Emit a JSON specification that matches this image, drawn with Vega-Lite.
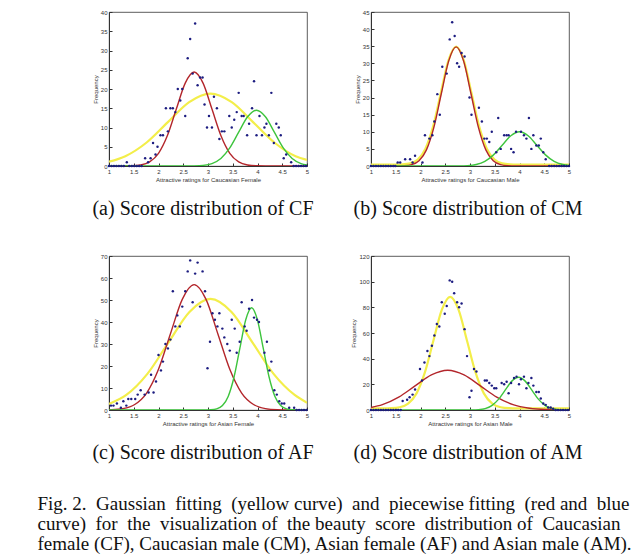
{
"$schema": "https://vega.github.io/schema/vega-lite/v6.json",
"padding": {"left": 37, "top": 8, "right": 5, "bottom": 5},
"background": "white",
"config": {
  "view": {"stroke": "#333", "strokeWidth": 0.8},
  "font": "Liberation Sans",
  "axis": {"grid": false, "labelFont": "Liberation Sans", "labelFontSize": 6, "labelColor": "#333", "titleFont": "Liberation Sans", "titleFontSize": 6, "titleFontWeight": "normal", "titleColor": "#333", "domainColor": "#333", "tickColor": "#333", "tickSize": -3, "labelPadding": 5, "titlePadding": 2, "labelFlush": false, "labelOverlap": false},
  "title": {"font": "Liberation Serif", "fontSize": 20, "fontWeight": "normal", "color": "#111"}
},
"title": {"text": ["Fig. 2.\u00a0 Gaussian \u00a0fitting \u00a0(yellow curve) \u00a0and \u00a0piecewise fitting \u00a0(red and \u00a0blue", "curve) \u00a0for \u00a0the \u00a0visualization of \u00a0the beauty \u00a0score \u00a0distribution of \u00a0Caucasian", "female (CF), Caucasian male (CM), Asian female (AF) and Asian male (AM)."], "orient": "bottom", "anchor": "start", "font": "Liberation Serif", "fontSize": 19, "lineHeight": 19.8, "dx": -54, "offset": 32},
"columns": 2,
"spacing": {"column": 64, "row": 90},
"bounds": "flush",
"datasets": {
  "a_y": [{"x":1,"y":1.1},{"x":1.33,"y":2.54},{"x":1.76,"y":6.1},{"x":2.19,"y":11.4},{"x":2.62,"y":16.59},{"x":3.05,"y":18.8},{"x":3.48,"y":16.59},{"x":3.91,"y":11.4},{"x":4.34,"y":6.1},{"x":4.77,"y":2.54},{"x":5,"y":1.6}],
  "a_r": [{"x":1,"y":0},{"x":1.1,"y":0},{"x":1.28,"y":0.01},{"x":1.46,"y":0.05},{"x":1.64,"y":0.27},{"x":1.82,"y":1.07},{"x":2.0,"y":3.3},{"x":2.18,"y":7.92},{"x":2.36,"y":14.8},{"x":2.54,"y":21.53},{"x":2.72,"y":24.4},{"x":2.9,"y":21.53},{"x":3.08,"y":14.8},{"x":3.26,"y":7.92},{"x":3.44,"y":3.3},{"x":3.62,"y":1.07},{"x":3.8,"y":0.27},{"x":3.98,"y":0.05},{"x":4.16,"y":0.01},{"x":4.34,"y":0},{"x":5,"y":0}],
  "a_g": [{"x":1,"y":0},{"x":2.36,"y":0},{"x":2.54,"y":0},{"x":2.72,"y":0.03},{"x":2.9,"y":0.16},{"x":3.08,"y":0.64},{"x":3.26,"y":1.96},{"x":3.44,"y":4.71},{"x":3.62,"y":8.79},{"x":3.8,"y":12.8},{"x":3.98,"y":14.5},{"x":4.16,"y":12.8},{"x":4.34,"y":8.79},{"x":4.52,"y":4.71},{"x":4.7,"y":1.96},{"x":4.88,"y":0.64},{"x":5,"y":0.26}],
  "a_p": [{"x":1.0,"y":0},{"x":1.05,"y":0},{"x":1.1,"y":0},{"x":1.15,"y":0},{"x":1.2,"y":0},{"x":1.25,"y":0},{"x":1.3,"y":0},{"x":1.36,"y":1},{"x":1.41,"y":0},{"x":1.46,"y":0},{"x":1.51,"y":0},{"x":1.56,"y":0},{"x":1.61,"y":0},{"x":1.66,"y":0},{"x":1.73,"y":2},{"x":1.79,"y":1},{"x":1.84,"y":2},{"x":1.89,"y":6},{"x":1.94,"y":3},{"x":1.98,"y":5},{"x":2.04,"y":8},{"x":2.09,"y":8},{"x":2.15,"y":15},{"x":2.19,"y":9},{"x":2.24,"y":15},{"x":2.29,"y":15},{"x":2.34,"y":14},{"x":2.39,"y":20},{"x":2.44,"y":17},{"x":2.48,"y":20},{"x":2.54,"y":13},{"x":2.59,"y":28},{"x":2.64,"y":33},{"x":2.69,"y":24},{"x":2.74,"y":37},{"x":2.79,"y":21},{"x":2.84,"y":23},{"x":2.89,"y":23},{"x":2.93,"y":16},{"x":2.98,"y":10},{"x":3.02,"y":13},{"x":3.08,"y":10},{"x":3.12,"y":18},{"x":3.18,"y":15},{"x":3.23,"y":7},{"x":3.28,"y":9},{"x":3.33,"y":9},{"x":3.43,"y":13},{"x":3.48,"y":10},{"x":3.53,"y":12},{"x":3.58,"y":14},{"x":3.62,"y":19},{"x":3.68,"y":13},{"x":3.72,"y":13},{"x":3.79,"y":8},{"x":3.83,"y":11},{"x":3.89,"y":15},{"x":3.93,"y":22},{"x":3.98,"y":8},{"x":4.04,"y":13},{"x":4.09,"y":8},{"x":4.14,"y":10},{"x":4.18,"y":11},{"x":4.23,"y":8},{"x":4.28,"y":19},{"x":4.33,"y":6},{"x":4.38,"y":11},{"x":4.43,"y":10},{"x":4.47,"y":8},{"x":4.53,"y":2},{"x":4.58,"y":3},{"x":4.68,"y":1},{"x":4.73,"y":0},{"x":4.78,"y":0},{"x":4.83,"y":0},{"x":4.88,"y":0},{"x":4.93,"y":0},{"x":4.98,"y":0}],
  "b_y": [{"x":1,"y":0.4},{"x":1.17,"y":0.4},{"x":1.325,"y":0.4},{"x":1.48,"y":0.41},{"x":1.635,"y":0.48},{"x":1.79,"y":0.78},{"x":1.945,"y":1.91},{"x":2.1,"y":5.07},{"x":2.255,"y":11.6},{"x":2.41,"y":21.32},{"x":2.565,"y":30.85},{"x":2.72,"y":34.9},{"x":2.875,"y":30.85},{"x":3.03,"y":21.32},{"x":3.185,"y":11.6},{"x":3.34,"y":5.07},{"x":3.495,"y":1.91},{"x":3.65,"y":0.78},{"x":3.805,"y":0.48},{"x":3.96,"y":0.41},{"x":4.115,"y":0.4},{"x":5,"y":0.4}],
  "b_r": [{"x":1,"y":0},{"x":1.37,"y":0},{"x":1.52,"y":0.01},{"x":1.67,"y":0.08},{"x":1.82,"y":0.39},{"x":1.97,"y":1.53},{"x":2.12,"y":4.71},{"x":2.27,"y":11.3},{"x":2.42,"y":21.11},{"x":2.57,"y":30.71},{"x":2.72,"y":34.8},{"x":2.87,"y":30.71},{"x":3.02,"y":21.11},{"x":3.17,"y":11.3},{"x":3.32,"y":4.71},{"x":3.47,"y":1.53},{"x":3.62,"y":0.39},{"x":3.77,"y":0.08},{"x":3.92,"y":0.01},{"x":4.07,"y":0},{"x":5,"y":0}],
  "b_g": [{"x":1,"y":0},{"x":2.6,"y":0},{"x":2.775,"y":0.02},{"x":2.95,"y":0.11},{"x":3.125,"y":0.44},{"x":3.3,"y":1.35},{"x":3.475,"y":3.25},{"x":3.65,"y":6.07},{"x":3.825,"y":8.83},{"x":4.0,"y":10},{"x":4.175,"y":8.83},{"x":4.35,"y":6.07},{"x":4.525,"y":3.25},{"x":4.7,"y":1.35},{"x":4.875,"y":0.44},{"x":5,"y":0.17}],
  "b_p": [{"x":1.0,"y":0},{"x":1.05,"y":0},{"x":1.1,"y":0},{"x":1.15,"y":0},{"x":1.2,"y":0},{"x":1.25,"y":0},{"x":1.3,"y":0},{"x":1.35,"y":0},{"x":1.4,"y":0},{"x":1.45,"y":0},{"x":1.49,"y":0},{"x":1.54,"y":1},{"x":1.59,"y":1},{"x":1.69,"y":2},{"x":1.79,"y":2},{"x":1.84,"y":1},{"x":1.89,"y":3},{"x":2.04,"y":1},{"x":2.09,"y":9},{"x":2.18,"y":8},{"x":2.24,"y":9},{"x":2.28,"y":13},{"x":2.34,"y":21},{"x":2.39,"y":15},{"x":2.44,"y":29},{"x":2.53,"y":27},{"x":2.59,"y":37},{"x":2.64,"y":42},{"x":2.69,"y":38},{"x":2.74,"y":30},{"x":2.78,"y":29},{"x":2.83,"y":33},{"x":2.89,"y":32},{"x":2.99,"y":20},{"x":3.03,"y":15},{"x":3.18,"y":17},{"x":3.24,"y":13},{"x":3.29,"y":8},{"x":3.34,"y":8},{"x":3.39,"y":7},{"x":3.44,"y":10},{"x":3.53,"y":4},{"x":3.57,"y":14},{"x":3.62,"y":5},{"x":3.69,"y":9},{"x":3.74,"y":9},{"x":3.78,"y":9},{"x":3.83,"y":5},{"x":3.88,"y":4},{"x":3.93,"y":10},{"x":4.03,"y":10},{"x":4.09,"y":9},{"x":4.14,"y":8},{"x":4.19,"y":14},{"x":4.24,"y":5},{"x":4.28,"y":9},{"x":4.34,"y":6},{"x":4.39,"y":6},{"x":4.43,"y":8},{"x":4.48,"y":4},{"x":4.53,"y":2},{"x":4.6,"y":0},{"x":4.65,"y":0},{"x":4.7,"y":0},{"x":4.75,"y":0},{"x":4.8,"y":0},{"x":4.85,"y":0},{"x":4.9,"y":0},{"x":4.95,"y":0},{"x":5.0,"y":0}],
  "c_y": [{"x":1,"y":2.76},{"x":1.35,"y":6.83},{"x":1.775,"y":16.4},{"x":2.2,"y":30.63},{"x":2.625,"y":44.57},{"x":3.05,"y":50.5},{"x":3.475,"y":44.57},{"x":3.9,"y":30.63},{"x":4.325,"y":16.4},{"x":4.75,"y":6.83},{"x":5,"y":3.3}],
  "c_r": [{"x":1,"y":0.09},{"x":1.04,"y":0.13},{"x":1.28,"y":0.63},{"x":1.52,"y":2.5},{"x":1.76,"y":7.71},{"x":2.0,"y":18.51},{"x":2.24,"y":34.57},{"x":2.48,"y":50.3},{"x":2.72,"y":57},{"x":2.96,"y":50.3},{"x":3.2,"y":34.57},{"x":3.44,"y":18.51},{"x":3.68,"y":7.71},{"x":3.92,"y":2.5},{"x":4.16,"y":0.63},{"x":4.4,"y":0.13},{"x":4.64,"y":0.02},{"x":4.88,"y":0},{"x":5,"y":0}],
  "c_g": [{"x":1,"y":0},{"x":2.7,"y":0},{"x":2.8225,"y":0},{"x":2.94,"y":0.01},{"x":3.0575,"y":0.1},{"x":3.175,"y":0.52},{"x":3.2925,"y":2.04},{"x":3.41,"y":6.29},{"x":3.5275,"y":15.1},{"x":3.645,"y":28.2},{"x":3.7625,"y":41.04},{"x":3.88,"y":46.5},{"x":3.9975,"y":41.04},{"x":4.115,"y":28.2},{"x":4.2325,"y":15.1},{"x":4.35,"y":6.29},{"x":4.4675,"y":2.04},{"x":4.585,"y":0.52},{"x":4.7025,"y":0.1},{"x":4.82,"y":0.01},{"x":4.94,"y":0},{"x":5,"y":0}],
  "c_p": [{"x":1.04,"y":2},{"x":1.09,"y":2},{"x":1.16,"y":3},{"x":1.24,"y":1},{"x":1.29,"y":4},{"x":1.35,"y":2},{"x":1.39,"y":5},{"x":1.45,"y":5},{"x":1.53,"y":5},{"x":1.58,"y":7},{"x":1.64,"y":9},{"x":1.72,"y":7},{"x":1.8,"y":8},{"x":1.85,"y":16},{"x":1.9,"y":8},{"x":1.95,"y":13},{"x":2.0,"y":25},{"x":2.05,"y":18},{"x":2.09,"y":22},{"x":2.14,"y":30},{"x":2.19,"y":28},{"x":2.24,"y":32},{"x":2.29,"y":54},{"x":2.34,"y":38},{"x":2.38,"y":43},{"x":2.43,"y":38},{"x":2.48,"y":47},{"x":2.54,"y":54},{"x":2.59,"y":63},{"x":2.64,"y":68},{"x":2.69,"y":49},{"x":2.74,"y":62},{"x":2.79,"y":67},{"x":2.84,"y":47},{"x":2.89,"y":63},{"x":2.94,"y":54},{"x":2.99,"y":19},{"x":3.04,"y":31},{"x":3.09,"y":44},{"x":3.14,"y":41},{"x":3.19,"y":38},{"x":3.23,"y":44},{"x":3.29,"y":37},{"x":3.33,"y":33},{"x":3.39,"y":30},{"x":3.44,"y":27},{"x":3.48,"y":41},{"x":3.54,"y":37},{"x":3.58,"y":26},{"x":3.64,"y":31},{"x":3.68,"y":49},{"x":3.74,"y":38},{"x":3.78,"y":36},{"x":3.83,"y":46},{"x":3.89,"y":50},{"x":3.93,"y":42},{"x":3.99,"y":41},{"x":4.03,"y":40},{"x":4.14,"y":26},{"x":4.19,"y":31},{"x":4.24,"y":18},{"x":4.28,"y":22},{"x":4.34,"y":9},{"x":4.39,"y":7},{"x":4.44,"y":4},{"x":4.49,"y":3},{"x":4.54,"y":3},{"x":4.64,"y":1},{"x":4.74,"y":1},{"x":4.79,"y":0},{"x":4.84,"y":0},{"x":4.89,"y":0},{"x":4.94,"y":0},{"x":4.99,"y":0}],
  "d_y": [{"x":1,"y":1.2},{"x":1.07,"y":1.2},{"x":1.24,"y":1.23},{"x":1.41,"y":1.39},{"x":1.58,"y":2.17},{"x":1.75,"y":5.02},{"x":1.92,"y":12.97},{"x":2.09,"y":29.45},{"x":2.26,"y":53.97},{"x":2.43,"y":77.98},{"x":2.6,"y":88.2},{"x":2.77,"y":77.98},{"x":2.94,"y":53.97},{"x":3.11,"y":29.45},{"x":3.28,"y":12.97},{"x":3.45,"y":5.02},{"x":3.62,"y":2.17},{"x":3.79,"y":1.39},{"x":3.96,"y":1.23},{"x":4.13,"y":1.2},{"x":5,"y":1.2}],
  "d_r": [{"x":1,"y":1.97},{"x":1.23,"y":4.19},{"x":1.56,"y":10.07},{"x":1.89,"y":18.8},{"x":2.22,"y":27.36},{"x":2.55,"y":31},{"x":2.88,"y":27.36},{"x":3.21,"y":18.8},{"x":3.54,"y":10.07},{"x":3.87,"y":4.19},{"x":4.2,"y":1.36},{"x":4.53,"y":0.34},{"x":4.86,"y":0.07},{"x":5,"y":0.03}],
  "d_g": [{"x":1,"y":0},{"x":2.765,"y":0},{"x":2.9,"y":0.01},{"x":3.035,"y":0.06},{"x":3.17,"y":0.28},{"x":3.305,"y":1.12},{"x":3.44,"y":3.45},{"x":3.575,"y":8.28},{"x":3.71,"y":15.47},{"x":3.845,"y":22.5},{"x":3.98,"y":25.5},{"x":4.115,"y":22.5},{"x":4.25,"y":15.47},{"x":4.385,"y":8.28},{"x":4.52,"y":3.45},{"x":4.655,"y":1.12},{"x":4.79,"y":0.28},{"x":4.925,"y":0.06},{"x":5,"y":0.02}],
  "d_p": [{"x":1.0,"y":0},{"x":1.05,"y":0},{"x":1.1,"y":0},{"x":1.15,"y":0},{"x":1.2,"y":0},{"x":1.25,"y":0},{"x":1.3,"y":0},{"x":1.35,"y":0},{"x":1.4,"y":0},{"x":1.45,"y":0},{"x":1.5,"y":0},{"x":1.55,"y":0},{"x":1.6,"y":0},{"x":1.64,"y":7},{"x":1.73,"y":8},{"x":1.78,"y":10},{"x":1.84,"y":12},{"x":1.89,"y":16},{"x":1.99,"y":32},{"x":2.03,"y":23},{"x":2.08,"y":37},{"x":2.14,"y":46},{"x":2.18,"y":42},{"x":2.23,"y":50},{"x":2.28,"y":58},{"x":2.33,"y":67},{"x":2.38,"y":65},{"x":2.43,"y":84},{"x":2.49,"y":75},{"x":2.53,"y":81},{"x":2.59,"y":101},{"x":2.64,"y":100},{"x":2.68,"y":91},{"x":2.74,"y":84},{"x":2.78,"y":80},{"x":2.83,"y":83},{"x":2.89,"y":63},{"x":2.94,"y":42},{"x":2.99,"y":10},{"x":3.03,"y":15},{"x":3.08,"y":32},{"x":3.13,"y":30},{"x":3.3,"y":23},{"x":3.34,"y":23},{"x":3.39,"y":21},{"x":3.44,"y":19},{"x":3.49,"y":17},{"x":3.53,"y":17},{"x":3.64,"y":21},{"x":3.69,"y":20},{"x":3.74,"y":22},{"x":3.78,"y":13},{"x":3.83,"y":21},{"x":3.89,"y":25},{"x":3.94,"y":26},{"x":3.99,"y":20},{"x":4.03,"y":24},{"x":4.09,"y":26},{"x":4.14,"y":17},{"x":4.18,"y":21},{"x":4.24,"y":25},{"x":4.28,"y":19},{"x":4.34,"y":14},{"x":4.39,"y":14},{"x":4.43,"y":9},{"x":4.48,"y":5},{"x":4.53,"y":4},{"x":4.58,"y":2},{"x":4.63,"y":2},{"x":4.68,"y":1},{"x":4.73,"y":0},{"x":4.78,"y":0},{"x":4.83,"y":0},{"x":4.88,"y":0},{"x":4.93,"y":0},{"x":4.98,"y":0}]
},
"concat": [
  {
    "width": 198, "height": 154,
    "title": {"text": "(a) Score distribution of CF", "orient": "bottom", "offset": 17, "dx": -5},
    "encoding": {
      "x": {"field": "x", "type": "quantitative", "scale": {"domain": [1, 5], "nice": false, "zero": false}, "axis": {"values": [1, 1.5, 2, 2.5, 3, 3.5, 4, 4.5, 5], "format": "~g", "title": "Attractive ratings for Caucasian Female"}},
      "y": {"field": "y", "type": "quantitative", "scale": {"domain": [0, 40], "nice": false}, "axis": {"values": [0, 5, 10, 15, 20, 25, 30, 35, 40], "title": "Frequency"}}
    },
    "layer": [
      {"data": {"name": "a_y"}, "mark": {"type": "line", "interpolate": "monotone", "color": "#f3ee4a", "strokeWidth": 2.2, "clip": true}, "encoding": {}},
      {"data": {"name": "a_r"}, "mark": {"type": "line", "interpolate": "monotone", "color": "#b3262b", "strokeWidth": 1.4, "clip": true}, "encoding": {}},
      {"data": {"name": "a_g"}, "mark": {"type": "line", "interpolate": "monotone", "color": "#3dc43d", "strokeWidth": 1.4, "clip": true}, "encoding": {}},
      {"data": {"name": "a_p"}, "mark": {"type": "circle", "size": 6, "color": "#1c1c80", "opacity": 1}}
    ]
  },
  {
    "width": 198, "height": 154,
    "title": {"text": "(b) Score distribution of CM", "orient": "bottom", "offset": 17, "dx": -2},
    "encoding": {
      "x": {"field": "x", "type": "quantitative", "scale": {"domain": [1, 5], "nice": false, "zero": false}, "axis": {"values": [1, 1.5, 2, 2.5, 3, 3.5, 4, 4.5, 5], "format": "~g", "title": "Attractive ratings for Caucasian Male"}},
      "y": {"field": "y", "type": "quantitative", "scale": {"domain": [0, 45], "nice": false}, "axis": {"values": [0, 5, 10, 15, 20, 25, 30, 35, 40, 45], "title": "Frequency"}}
    },
    "layer": [
      {"data": {"name": "b_y"}, "mark": {"type": "line", "interpolate": "monotone", "color": "#f3ee4a", "strokeWidth": 2.2, "clip": true}, "encoding": {}},
      {"data": {"name": "b_r"}, "mark": {"type": "line", "interpolate": "monotone", "color": "#b3262b", "strokeWidth": 1.4, "clip": true}, "encoding": {}},
      {"data": {"name": "b_g"}, "mark": {"type": "line", "interpolate": "monotone", "color": "#3dc43d", "strokeWidth": 1.4, "clip": true}, "encoding": {}},
      {"data": {"name": "b_p"}, "mark": {"type": "circle", "size": 6, "color": "#1c1c80", "opacity": 1}}
    ]
  },
  {
    "width": 198, "height": 154,
    "title": {"text": "(c) Score distribution of AF", "orient": "bottom", "offset": 17, "dx": -5},
    "encoding": {
      "x": {"field": "x", "type": "quantitative", "scale": {"domain": [1, 5], "nice": false, "zero": false}, "axis": {"values": [1, 1.5, 2, 2.5, 3, 3.5, 4, 4.5, 5], "format": "~g", "title": "Attractive ratings for Asian Female"}},
      "y": {"field": "y", "type": "quantitative", "scale": {"domain": [0, 70], "nice": false}, "axis": {"values": [0, 10, 20, 30, 40, 50, 60, 70], "title": "Frequency"}}
    },
    "layer": [
      {"data": {"name": "c_y"}, "mark": {"type": "line", "interpolate": "monotone", "color": "#f3ee4a", "strokeWidth": 2.2, "clip": true}, "encoding": {}},
      {"data": {"name": "c_r"}, "mark": {"type": "line", "interpolate": "monotone", "color": "#b3262b", "strokeWidth": 1.4, "clip": true}, "encoding": {}},
      {"data": {"name": "c_g"}, "mark": {"type": "line", "interpolate": "monotone", "color": "#3dc43d", "strokeWidth": 1.4, "clip": true}, "encoding": {}},
      {"data": {"name": "c_p"}, "mark": {"type": "circle", "size": 6, "color": "#1c1c80", "opacity": 1}}
    ]
  },
  {
    "width": 198, "height": 154,
    "title": {"text": "(d) Score distribution of AM", "orient": "bottom", "offset": 17, "dx": -2},
    "encoding": {
      "x": {"field": "x", "type": "quantitative", "scale": {"domain": [1, 5], "nice": false, "zero": false}, "axis": {"values": [1, 1.5, 2, 2.5, 3, 3.5, 4, 4.5, 5], "format": "~g", "title": "Attractive ratings for Asian Male"}},
      "y": {"field": "y", "type": "quantitative", "scale": {"domain": [0, 120], "nice": false}, "axis": {"values": [0, 20, 40, 60, 80, 100, 120], "title": "Frequency"}}
    },
    "layer": [
      {"data": {"name": "d_y"}, "mark": {"type": "line", "interpolate": "monotone", "color": "#f3ee4a", "strokeWidth": 2.2, "clip": true}, "encoding": {}},
      {"data": {"name": "d_r"}, "mark": {"type": "line", "interpolate": "monotone", "color": "#b3262b", "strokeWidth": 1.4, "clip": true}, "encoding": {}},
      {"data": {"name": "d_g"}, "mark": {"type": "line", "interpolate": "monotone", "color": "#3dc43d", "strokeWidth": 1.4, "clip": true}, "encoding": {}},
      {"data": {"name": "d_p"}, "mark": {"type": "circle", "size": 6, "color": "#1c1c80", "opacity": 1}}
    ]
  }
]
}
